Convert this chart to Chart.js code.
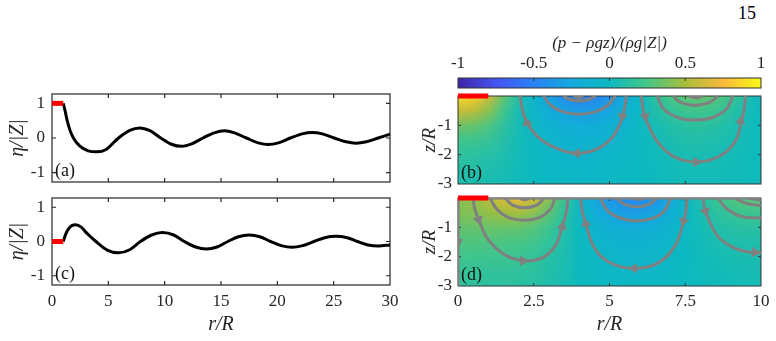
<!DOCTYPE html>
<html><head><meta charset="utf-8">
<script src="https://cdn.jsdelivr.net/npm/chart.js@4.4.1/dist/chart.umd.min.js"></script>
<style>
html,body{margin:0;padding:0;background:#fff;width:776px;height:341px;overflow:hidden;position:relative;}
canvas{position:absolute;}
#pg{position:absolute;left:738px;top:3px;font:18px "Liberation Serif",serif;color:#000;}
</style></head><body>
<div id="pg">15</div>
<canvas id="ca" width="400" height="110" style="left:0;top:80px"></canvas>
<canvas id="cc" width="400" height="156" style="left:0;top:185px"></canvas>
<canvas id="cbar" width="356" height="68" style="left:420px;top:25px"></canvas>
<canvas id="cb" width="356" height="100" style="left:420px;top:90px"></canvas>
<canvas id="cd" width="356" height="151" style="left:420px;top:190px"></canvas>
<script>
// ---------------- data ----------------
const xTicksLeft = [0,5,10,15,20,25,30];
const yTicksLeft = [-1,0,1];
const xTicksRight = [0,2.5,5,7.5,10];
const yTicksRight = [-3,-2,-1];
const cbTicks = [-1,-0.5,0,0.5,1];

// panel (a): free-surface elevation
const rA   = [1,1.15,1.35,1.6,1.9,2.45,3.2,4.0,4.8,5.9,6.9,7.8,8.7,9.65,10.6,11.5,12.4,13.4,14.4,15.3,16.2,17.25,18.3,19.2,20.1,21.15,22.2,23.1,24.0,25.05,26.1,27.0,27.9,28.95,30];
const etaA = [1,0.8,0.5,0.22,0,-0.23,-0.37,-0.40,-0.33,0,0.22,0.29,0.21,0,-0.18,-0.24,-0.17,0,0.15,0.21,0.15,0,-0.14,-0.19,-0.14,0,0.12,0.16,0.12,0,-0.11,-0.15,-0.11,0,0.11];
const diskA = [1,1];
// panel (c)
const rC   = [1,1.2,1.5,1.8,2.1,2.6,3.1,3.9,4.9,5.9,6.9,7.85,8.85,9.8,10.8,11.75,12.75,13.7,14.65,15.6,16.55,17.5,18.45,19.4,20.35,21.3,22.25,23.25,24.2,25.2,26.2,27.1,28.05,29.0,30];
const etaC = [0,0.2,0.38,0.47,0.49,0.42,0.24,0,-0.25,-0.33,-0.24,0,0.19,0.26,0.19,0,-0.16,-0.22,-0.16,0,0.14,0.19,0.14,0,-0.12,-0.17,-0.12,0,0.11,0.15,0.11,0,-0.1,-0.13,-0.1];
const diskC = [0,0];
const diskR = [0,1];

// pressure fields (rows: fieldZ, columns: fieldR)
const fieldR = [0,0.5,1,1.5,2,2.5,3,3.5,4,4.5,5,5.5,6,6.5,7,7.5,8,8.5,9,9.5,10];
const fieldZ = [0,-0.5,-1,-1.5,-2,-2.5,-3];
const fieldB = [
 [0.88,0.82,0.60,0.32,0.08,-0.10,-0.30,-0.44,-0.50,-0.48,-0.38,-0.22,-0.03,0.14,0.25,0.31,0.33,0.29,0.20,0.08,-0.02],
 [0.60,0.55,0.42,0.22,0.05,-0.08,-0.21,-0.29,-0.33,-0.32,-0.26,-0.15,-0.02,0.09,0.17,0.21,0.22,0.20,0.13,0.05,-0.01],
 [0.36,0.33,0.27,0.15,0.04,-0.05,-0.13,-0.18,-0.21,-0.20,-0.16,-0.10,-0.02,0.05,0.10,0.13,0.14,0.12,0.08,0.04,0.00],
 [0.22,0.21,0.18,0.11,0.04,-0.03,-0.08,-0.12,-0.14,-0.13,-0.11,-0.06,-0.01,0.03,0.07,0.09,0.09,0.08,0.06,0.03,0.00],
 [0.15,0.14,0.12,0.08,0.03,-0.02,-0.05,-0.08,-0.09,-0.08,-0.07,-0.04,-0.01,0.02,0.04,0.06,0.06,0.05,0.04,0.02,0.00],
 [0.10,0.10,0.08,0.06,0.02,-0.01,-0.04,-0.05,-0.06,-0.06,-0.05,-0.03,-0.01,0.01,0.03,0.04,0.04,0.04,0.03,0.02,0.01],
 [0.08,0.07,0.06,0.04,0.02,0.00,-0.02,-0.03,-0.04,-0.04,-0.03,-0.02,-0.01,0.01,0.02,0.03,0.03,0.03,0.02,0.02,0.01]
];
const fieldD = [
 [0.42,0.45,0.55,0.65,0.70,0.62,0.42,0.18,-0.05,-0.25,-0.38,-0.44,-0.45,-0.38,-0.24,-0.06,0.08,0.20,0.27,0.30,0.30],
 [0.40,0.41,0.45,0.48,0.48,0.42,0.30,0.13,-0.04,-0.19,-0.28,-0.32,-0.32,-0.27,-0.17,-0.04,0.06,0.14,0.19,0.21,0.21],
 [0.33,0.33,0.34,0.34,0.33,0.29,0.21,0.10,-0.01,-0.11,-0.17,-0.20,-0.20,-0.17,-0.10,-0.02,0.04,0.09,0.12,0.13,0.13],
 [0.27,0.27,0.27,0.26,0.25,0.22,0.16,0.08,0.00,-0.07,-0.11,-0.13,-0.13,-0.11,-0.07,-0.01,0.03,0.06,0.08,0.09,0.09],
 [0.22,0.22,0.21,0.21,0.20,0.17,0.12,0.07,0.01,-0.04,-0.07,-0.09,-0.09,-0.07,-0.04,-0.01,0.02,0.04,0.06,0.07,0.07],
 [0.18,0.18,0.17,0.17,0.16,0.14,0.10,0.06,0.01,-0.03,-0.05,-0.06,-0.06,-0.05,-0.03,0.00,0.02,0.03,0.04,0.05,0.05],
 [0.15,0.15,0.14,0.14,0.13,0.11,0.08,0.05,0.01,-0.02,-0.03,-0.04,-0.04,-0.03,-0.02,0.00,0.01,0.02,0.03,0.04,0.04]
];

// streamlines [r, z]
const streamsB = [
 [[2.05,0],[2.12,-0.45],[2.3,-0.95],[2.7,-1.45],[3.3,-1.8],[3.92,-1.95],[4.6,-1.8],[5.1,-1.4],[5.4,-0.8],[5.52,-0.3],[5.55,0]],
 [[2.82,0],[3.1,-0.35],[3.5,-0.55],[3.97,-0.62],[4.5,-0.55],[4.9,-0.35],[5.2,0]],
 [[3.48,0],[3.7,-0.12],[4.0,-0.17],[4.3,-0.12],[4.55,0]],
 [[3.82,0],[3.98,-0.05],[4.14,0]],
 [[6.05,0],[6.1,-0.4],[6.2,-0.8],[6.6,-1.58],[7.15,-2.08],[7.85,-2.25],[8.58,-2.08],[9.13,-1.58],[9.35,-0.9],[9.45,-0.4],[9.48,0]],
 [[6.57,0],[6.8,-0.45],[7.3,-0.75],[7.82,-0.82],[8.35,-0.75],[8.85,-0.45],[9.08,0]],
 [[7.1,0],[7.35,-0.22],[7.83,-0.32],[8.3,-0.22],[8.58,0]],
 [[7.62,0],[7.85,-0.06],[8.08,0]]
];
const arrowsB = [[2.27,-0.9,345],[3.92,-1.95,270],[5.42,-0.7,190],[6.18,-0.7,170],[7.87,-2.25,90],[9.33,-0.85,10]];
const streamsD = [
 [[0,0],[0,-3]],
 [[1,0],[10,0]],
 [[0.5,0],[0.55,-0.35],[0.7,-0.78],[1.0,-1.43],[1.55,-1.94],[2.15,-2.14],[2.76,-2.05],[3.2,-1.65],[3.44,-0.97],[3.58,-0.45],[3.62,0]],
 [[1.05,0],[1.3,-0.4],[1.7,-0.68],[2.2,-0.76],[2.7,-0.66],[3.05,-0.38],[3.2,0]],
 [[1.55,0],[1.8,-0.24],[2.2,-0.33],[2.6,-0.24],[2.85,0]],
 [[2.02,0],[2.2,-0.06],[2.38,0]],
 [[4.05,0],[4.1,-0.45],[4.22,-0.9],[4.5,-1.7],[5.0,-2.2],[5.8,-2.4],[6.6,-2.22],[7.15,-1.65],[7.42,-0.9],[7.53,-0.4],[7.56,0]],
 [[4.69,0],[4.95,-0.45],[5.4,-0.7],[5.88,-0.78],[6.4,-0.7],[6.8,-0.45],[7.02,0]],
 [[5.24,0],[5.5,-0.22],[5.9,-0.3],[6.3,-0.22],[6.56,0]],
 [[5.78,0],[5.95,-0.05],[6.12,0]],
 [[8.09,0],[8.17,-0.46],[8.58,-1.31],[9.13,-1.71],[9.6,-1.84],[10,-1.87]],
 [[8.58,0],[8.85,-0.35],[9.35,-0.63],[10,-0.68]],
 [[9.13,0],[9.5,-0.18],[10,-0.26]],
 [[9.6,0],[9.8,-0.05],[10,-0.06]]
];
const arrowsD = [[0,-1.5,180],[0.68,-0.74,165],[2.15,-2.14,90],[3.44,-0.97,10],[4.21,-0.86,345],[5.8,-2.4,270],[7.44,-0.8,195],[8.17,-0.46,165],[9.8,-1.85,95]];

// parula-like colour map
const cmapPos = [0,0.125,0.25,0.375,0.5,0.625,0.75,0.875,1];
const cmapRGB = [[62,38,168],[70,84,243],[42,130,242],[20,170,222],[12,186,192],[70,198,135],[168,190,58],[250,185,60],[249,250,20]];

// ---------------- helpers ----------------
const FONT = '"Liberation Serif", "Times New Roman", serif';
const INK = '#262626';
const STREAM = '#808080';
Chart.defaults.font.family = FONT;
Chart.defaults.color = INK;
const FIELDS = {B: fieldB, D: fieldD};

function cmap(v){
  const t = Math.max(0, Math.min(1, (v+1)/2));
  let k = 0; while (k < cmapPos.length-2 && t > cmapPos[k+1]) k++;
  const f = (t - cmapPos[k]) / (cmapPos[k+1] - cmapPos[k]);
  return cmapRGB[k].map((c,i)=> Math.round(c + f*(cmapRGB[k+1][i]-c)));
}

function drawField(chart, g){
  const {ctx, chartArea:a, scales:{x,y}} = chart;
  const nr = g.length, nc = g[0].length;
  const off = document.createElement('canvas'); off.width = nc+2; off.height = nr+2;
  const oc = off.getContext('2d'); const im = oc.createImageData(nc+2, nr+2);
  for (let j=0;j<nr+2;j++) for (let i=0;i<nc+2;i++){
    const jj = Math.min(nr-1, Math.max(0, j-1)), ii = Math.min(nc-1, Math.max(0, i-1));
    const c = cmap(g[jj][ii]); const p = 4*(j*(nc+2)+i);
    im.data[p]=c[0]; im.data[p+1]=c[1]; im.data[p+2]=c[2]; im.data[p+3]=255;
  }
  oc.putImageData(im,0,0);
  const dr = fieldR[1]-fieldR[0], dz = fieldZ[1]-fieldZ[0];
  const x0 = x.getPixelForValue(fieldR[0]-1.5*dr), x1 = x.getPixelForValue(fieldR[0]+(nc+0.5)*dr);
  const y0 = y.getPixelForValue(fieldZ[0]-1.5*dz), y1 = y.getPixelForValue(fieldZ[0]+(nr+0.5)*dz);
  ctx.save();
  ctx.beginPath(); ctx.rect(a.left, a.top, a.right-a.left, a.bottom-a.top); ctx.clip();
  ctx.imageSmoothingEnabled = true; ctx.imageSmoothingQuality = 'low';
  ctx.drawImage(off, x0, y0, x1-x0, y1-y0);
  ctx.restore();
}

function drawCbar(chart){
  const {ctx, chartArea:a, scales:{x}} = chart;
  const p0 = x.getPixelForValue(-1), p1 = x.getPixelForValue(1);
  const gr = ctx.createLinearGradient(p0, 0, p1, 0);
  cmapPos.forEach((t,i)=>{ const c = cmapRGB[i]; gr.addColorStop(t, `rgb(${c[0]},${c[1]},${c[2]})`); });
  ctx.save(); ctx.fillStyle = gr; ctx.fillRect(a.left, a.top, a.right-a.left, a.bottom-a.top); ctx.restore();
}

const panelPlugin = {
  id: 'panel',
  beforeDatasetsDraw(chart, args, o){
    const {ctx, chartArea:a, scales:{x,y}} = chart;
    if (o.field) drawField(chart, FIELDS[o.field]);
    if (o.cbar) drawCbar(chart);
    ctx.save();
    ctx.strokeStyle = o.color || INK; ctx.lineWidth = o.lw || 1.2;
    ctx.strokeRect(a.left, a.top, a.right-a.left, a.bottom-a.top);
    const L = o.tick || 4, s = o.sides || 'tblr';
    ctx.beginPath();
    x.ticks.forEach(t=>{ const p = x.getPixelForValue(t.value);
      if (p <= a.left+1 || p >= a.right-1) return;
      if (s.includes('b')) { ctx.moveTo(p, a.bottom); ctx.lineTo(p, a.bottom-L); }
      if (s.includes('t')) { ctx.moveTo(p, a.top); ctx.lineTo(p, a.top+L); } });
    if (s.includes('l') || s.includes('r')) y.ticks.forEach(t=>{ const p = y.getPixelForValue(t.value);
      if (p <= a.top+1 || p >= a.bottom-1) return;
      if (s.includes('l')) { ctx.moveTo(a.left, p); ctx.lineTo(a.left+L, p); }
      if (s.includes('r')) { ctx.moveTo(a.right, p); ctx.lineTo(a.right-L, p); } });
    ctx.stroke(); ctx.restore();
  },
  afterDatasetsDraw(chart, args, o){
    if (!o.label) return;
    const {ctx, chartArea:a} = chart;
    ctx.save(); ctx.font = '18px ' + FONT; ctx.fillStyle = '#111';
    ctx.textBaseline = 'middle'; ctx.textAlign = 'left';
    ctx.fillText(o.label, a.left+3, a.bottom-11); ctx.restore();
  }
};
Chart.register(panelPlugin);

const tickFont = {family: FONT, size: 17};
const titleFont = {family: FONT, size: 20, style: 'italic'};

function xyOf(xs, ys){ return xs.map((v,i)=>({x:v, y:ys[i]})); }
function noPad(s){ s.paddingTop = 0; s.paddingBottom = 0; s.paddingLeft = 0; s.paddingRight = 0; }

function leftChart(id, rs, etas, disk, label, showX, xH, padTop){
  return new Chart(document.getElementById(id), {
    type: 'scatter',
    data: {datasets: [
      {data: xyOf(rs, etas), showLine: true, borderColor: '#000', borderWidth: 3, pointRadius: 0, cubicInterpolationMode: 'monotone', order: 2},
      {data: xyOf(diskR, disk), showLine: true, borderColor: '#ff0000', borderWidth: 5, pointRadius: 0, borderCapStyle: 'butt', clip: false, order: 1}
    ]},
    options: {
      responsive: false, animation: false, events: [],
      layout: {padding: {top: padTop, right: 10, left: 0, bottom: 0}},
      plugins: {legend: {display: false}, tooltip: {enabled: false}, panel: {label: label, sides: 'tblr', tick: 4}},
      scales: {
        x: {type: 'linear', min: 0, max: 30,
            afterBuildTicks: s => { s.ticks = xTicksLeft.map(v=>({value:v})); },
            afterFit: s => { s.height = xH; noPad(s); },
            grid: {display: false, drawTicks: false}, border: {display: false},
            ticks: {display: showX, font: tickFont, color: INK, padding: 6, autoSkip: false, maxRotation: 0, callback: v => String(v)},
            title: {display: showX, text: 'r/R', font: titleFont, color: INK, padding: {top: 0, bottom: 4}}},
        y: {type: 'linear', min: -1.27, max: 1.27,
            afterBuildTicks: s => { s.ticks = yTicksLeft.map(v=>({value:v})); },
            afterFit: s => { s.width = 52; noPad(s); },
            grid: {display: false, drawTicks: false}, border: {display: false},
            ticks: {font: tickFont, color: INK, padding: 7, autoSkip: false, callback: v => String(v)},
            title: {display: true, text: 'η/|Z|', font: titleFont, color: INK, padding: {top: 6, bottom: 0}}}
      }
    }
  });
}

function rightChart(id, fieldKey, streams, arrows, label, showX, xH, padTop){
  const ds = streams.map(s => ({data: s.map(p=>({x:p[0], y:p[1]})), showLine: true, borderColor: STREAM, borderWidth: 3, pointRadius: 0, tension: 0.4, order: 3}));
  ds.push({data: arrows.map(p=>({x:p[0], y:p[1]})), showLine: false, pointStyle: 'triangle', pointRadius: 6, pointRotation: arrows.map(p=>p[2]), backgroundColor: STREAM, borderWidth: 0, order: 2});
  ds.push({data: xyOf(diskR, [0,0]), showLine: true, borderColor: '#ff0000', borderWidth: 5, pointRadius: 0, borderCapStyle: 'butt', clip: false, order: 1});
  return new Chart(document.getElementById(id), {
    type: 'scatter',
    data: {datasets: ds},
    options: {
      responsive: false, animation: false, events: [],
      layout: {padding: {top: padTop, right: 15, left: 0, bottom: 0}},
      plugins: {legend: {display: false}, tooltip: {enabled: false}, panel: {label: label, field: fieldKey, sides: 'tblr', tick: 3, color: '#333', lw: 1}},
      scales: {
        x: {type: 'linear', min: 0, max: 10,
            afterBuildTicks: s => { s.ticks = xTicksRight.map(v=>({value:v})); },
            afterFit: s => { s.height = xH; noPad(s); },
            grid: {display: false, drawTicks: false}, border: {display: false},
            ticks: {display: showX, font: tickFont, color: INK, padding: 5, autoSkip: false, maxRotation: 0, callback: v => String(v)},
            title: {display: showX, text: 'r/R', font: titleFont, color: INK, padding: {top: 0, bottom: 4}}},
        y: {type: 'linear', min: -3, max: 0,
            afterBuildTicks: s => { s.ticks = yTicksRight.map(v=>({value:v})); },
            afterFit: s => { s.width = 38; noPad(s); },
            grid: {display: false, drawTicks: false}, border: {display: false},
            ticks: {font: tickFont, color: INK, padding: 6, autoSkip: false, callback: v => String(v)},
            title: {display: true, text: 'z/R', font: {family: FONT, size: 19, style: 'italic'}, color: INK, padding: {top: -1, bottom: 0}}}
      }
    }
  });
}

leftChart('ca', rA, etaA, diskA, '(a)', false, 8, 14);
leftChart('cc', rC, etaC, diskC, '(c)', true, 56, 13);
rightChart('cb', 'B', streamsB, arrowsB, '(b)', false, 6, 5);
rightChart('cd', 'D', streamsD, arrowsD, '(d)', true, 55, 8);

new Chart(document.getElementById('cbar'), {
  type: 'scatter',
  data: {datasets: []},
  options: {
    responsive: false, animation: false, events: [],
    layout: {padding: {top: 0, right: 15, left: 38, bottom: 5}},
    plugins: {legend: {display: false}, tooltip: {enabled: false}, panel: {cbar: true, sides: 't', tick: 3, color: '#333', lw: 1}},
    scales: {
      x: {type: 'linear', position: 'top', min: -1, max: 1,
          afterBuildTicks: s => { s.ticks = cbTicks.map(v=>({value:v})); },
          afterFit: s => { s.height = 53; noPad(s); },
          grid: {display: false, drawTicks: false}, border: {display: false},
          ticks: {font: tickFont, color: INK, padding: 4, autoSkip: false, maxRotation: 0, callback: v => String(v)},
          title: {display: true, text: '(p − ρgz)/(ρg|Z|)', font: {family: FONT, size: 17, style: 'italic'}, color: INK, padding: {top: 8, bottom: 0}}},
      y: {display: false, min: 0, max: 1}
    }
  }
});
</script>
</body></html>
